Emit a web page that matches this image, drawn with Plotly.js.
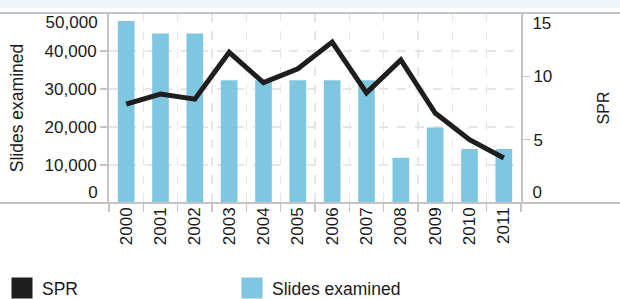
<!DOCTYPE html>
<html>
<head>
<meta charset="utf-8">
<script src="https://cdn.plot.ly/plotly-3.0.1.min.js"></script>
<style>html,body{margin:0;padding:0;background:#fff;}#chart{width:620px;height:299px;}</style>
</head>
<body>
<div id="chart"></div>
<script>
// ---- data ----
var years = ['2000','2001','2002','2003','2004','2005','2006','2007','2008','2009','2010','2011'];
var slidesExamined = [47900, 44600, 44600, 32300, 32300, 32300, 32300, 32300, 11900, 19900, 14200, 14200];
var spr = [7.8, 8.6, 8.2, 11.9, 9.5, 10.6, 12.7, 8.7, 11.3, 7.1, 5.0, 3.55];
var leftTickVals = [10000, 20000, 30000, 40000];
var leftTickText = ['10,000', '20,000', '30,000', '40,000'];
var leftEndText = ['0', '50,000'];
var rightTickVals = [5, 10];
var rightTickText = ['5', '10'];
var rightEndText = ['0', '15'];

var FONT = 'Liberation Sans, Arial, Helvetica, sans-serif';
var GRID = '#e6e6e6';
var AXIS = '#c4c4c4';
var BAR = '#7fc7e0';
var LINE = '#1e1e1e';

var L = 109, R = 99, T = 13, B = 96, W = 620, H = 299;
var pw = W - L - R, ph = H - T - B;
function px2x(p){ return (p - L) / pw; }
function py2y(p){ return (H - B - p) / ph; }

var traces = [
  {type:'bar', x: years, y: slidesExamined, name:'Slides examined', marker:{color: BAR},
   showlegend:false, yaxis:'y', hoverinfo:'x+y'},
  {type:'scatter', mode:'lines', x: years, y: spr, name:'SPR', yaxis:'y2',
   line:{color: LINE, width:5}, showlegend:false},
  // helper traces so the end-label axes are drawn
  {type:'scatter', mode:'markers', x:[null], y:[null], yaxis:'y3', showlegend:false, hoverinfo:'skip'},
  {type:'scatter', mode:'markers', x:[null], y:[null], yaxis:'y4', showlegend:false, hoverinfo:'skip'},
  // legend entries
  {type:'scatter', mode:'markers', x:[null], y:[null], name:'SPR', yaxis:'y',
   marker:{symbol:'square', size:16, color: LINE, line:{color: LINE, width:5}}},
  {type:'scatter', mode:'markers', x:[null], y:[null], name:'Slides examined', yaxis:'y',
   marker:{symbol:'square', size:16, color: BAR, line:{color: BAR, width:5}}}
];

var layout = {
  width: W, height: H,
  margin: {l: L, r: R, t: T, b: B, pad: 0, autoexpand: false},
  paper_bgcolor: '#fff', plot_bgcolor: '#fff',
  font: {family: FONT, color: '#1a1a1a', size: 17},
  bargap: 0.514,
  showlegend: true,
  legend: {
    orientation: 'h', x: px2x(2), xanchor: 'left', y: py2y(270), yanchor: 'top',
    entrywidth: 185, entrywidthmode: 'pixels', font: {family: FONT, size: 17.5, color:'#1a1a1a'},
    bgcolor: 'rgba(0,0,0,0)', traceorder: 'normal', itemclick: false
  },
  xaxis: {
    type: 'category', range: [-0.5, 11.5], tickson: 'boundaries',
    ticks: 'outside', ticklen: 8, tickwidth: 1.5, tickcolor: AXIS,
    tickangle: -90, tickfont: {family: FONT, size: 17},
    showgrid: true, gridcolor: GRID, griddash: 'dash', gridwidth: 1.5,
    showline: false, zeroline: false, fixedrange: true
  },
  yaxis: {
    range: [0, 50000], tickvals: leftTickVals, ticktext: leftTickText,
    ticks: 'outside', ticklen: 7, tickwidth: 1.5, tickcolor: AXIS,
    showline: true, linecolor: AXIS, linewidth: 2,
    showgrid: true, gridcolor: GRID, griddash: 'dash', gridwidth: 1.5, zeroline: false,
    tickfont: {family: FONT, size: 17},
    title: {text: 'Slides examined', font: {family: FONT, size: 17.5}, standoff: 16},
    fixedrange: true
  },
  yaxis3: {
    overlaying: 'y', side: 'left', range: [0, 50000], tickvals: [2900, 47500], ticktext: leftEndText,
    ticks: 'outside', ticklen: 7, tickcolor: 'rgba(0,0,0,0)',
    showline: false, showgrid: false, zeroline: false, tickfont: {family: FONT, size: 17}, fixedrange: true
  },
  yaxis2: {
    overlaying: 'y', side: 'right', range: [0, 15], tickvals: rightTickVals, ticktext: rightTickText,
    ticks: 'outside', ticklen: 7, tickwidth: 1.5, tickcolor: AXIS,
    showline: true, linecolor: AXIS, linewidth: 2,
    showgrid: false, zeroline: false, tickfont: {family: FONT, size: 17},
    title: {text: 'SPR', font: {family: FONT, size: 16}, standoff: 46},
    fixedrange: true
  },
  yaxis4: {
    overlaying: 'y', side: 'right', range: [0, 15], tickvals: [0.87, 14.2], ticktext: rightEndText,
    ticks: 'outside', ticklen: 7, tickcolor: 'rgba(0,0,0,0)',
    showline: false, showgrid: false, zeroline: false, tickfont: {family: FONT, size: 17}, fixedrange: true
  },
  shapes: [
    {type:'rect', xref:'paper', yref:'paper', x0: px2x(-2), x1: px2x(W+2), y0: py2y(8), y1: py2y(-2),
     fillcolor:'#eef4fc', line:{width:0}, layer:'below'},
    {type:'line', xref:'paper', yref:'paper', x0: px2x(0), x1: px2x(W), y0: 1, y1: 1,
     line:{color: AXIS, width: 2}},
    {type:'line', xref:'paper', yref:'paper', x0: px2x(0), x1: px2x(W), y0: 0, y1: 0,
     line:{color: AXIS, width: 2}}
  ]
};

Plotly.newPlot('chart', traces, layout, {displayModeBar: false, staticPlot: true});
</script>
</body>
</html>
